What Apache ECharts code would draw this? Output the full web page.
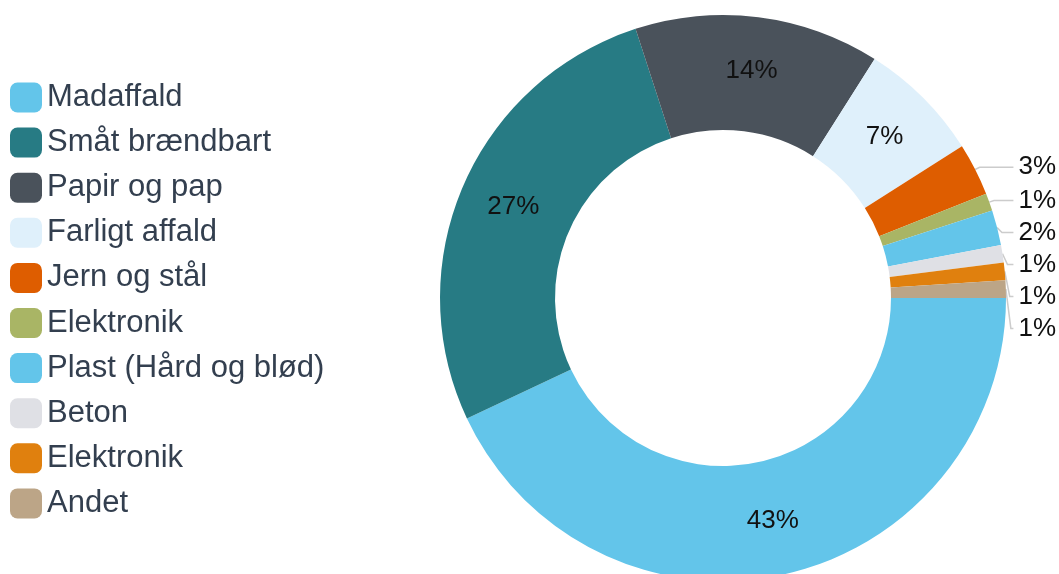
<!DOCTYPE html>
<html>
<head>
<meta charset="utf-8">
<script src="https://cdn.jsdelivr.net/npm/echarts@6/dist/echarts.min.js"></script>
<style>
html,body{margin:0;padding:0;background:#fff;}
#chart{width:1059px;height:574px;}
</style>
</head>
<body>
<div id="chart"></div>
<script>
// Data (percent shares)
var categories = ["Madaffald", "Småt brændbart", "Papir og pap", "Farligt affald", "Jern og stål", "Elektronik", "Plast (Hård og blød)", "Beton", "Elektronik ", "Andet"];
var values = [43, 27, 14, 7, 3, 1, 2, 1, 1, 1];
var colors = ["#63c5ea", "#277b84", "#4a525b", "#dff0fb", "#de5d00", "#a9b565", "#63c5ea", "#dfe0e5", "#e0800e", "#bca587"];
var insideLabel = [true, true, true, true, false, false, false, false, false, false];

var FONT = "Liberation Sans, Arial, Helvetica, sans-serif";
var data = categories.map(function (name, i) {
  var item = { name: name, value: values[i], itemStyle: { color: colors[i] } };
  if (insideLabel[i]) {
    item.label = { position: 'inside' };
    item.labelLine = { show: false };
  }
  return item;
});

var chart = echarts.init(document.getElementById('chart'), null, { renderer: 'canvas' });
chart.setOption({
  animation: false,
  backgroundColor: '#ffffff',
  legend: {
    orient: 'vertical',
    left: 10,
    top: 82,
    padding: 0,
    itemWidth: 32,
    itemHeight: 30,
    itemGap: 14.1,
    icon: 'roundRect',
    selectedMode: false,
    textStyle: { fontSize: 31, color: '#333f4f', fontFamily: FONT, padding: 0 },
    data: categories
  },
  series: [{
    type: 'pie',
    center: [723, 298],
    radius: [168, 283],
    startAngle: 0,
    clockwise: true,
    avoidLabelOverlap: true,
    label: {
      show: true,
      position: 'outside',
      alignTo: 'edge',
      edgeDistance: 3,
      overflow: 'none',
      lineHeight: 30,
      formatter: '{d}%',
      fontSize: 26,
      color: '#111111',
      fontFamily: FONT
    },
    labelLine: {
      show: true,
      length: 5,
      length2: 6,
      lineStyle: { color: '#cccccc', width: 1.5 }
    },
    emphasis: { disabled: true },
    data: data
  }]
});
</script>
</body>
</html>
